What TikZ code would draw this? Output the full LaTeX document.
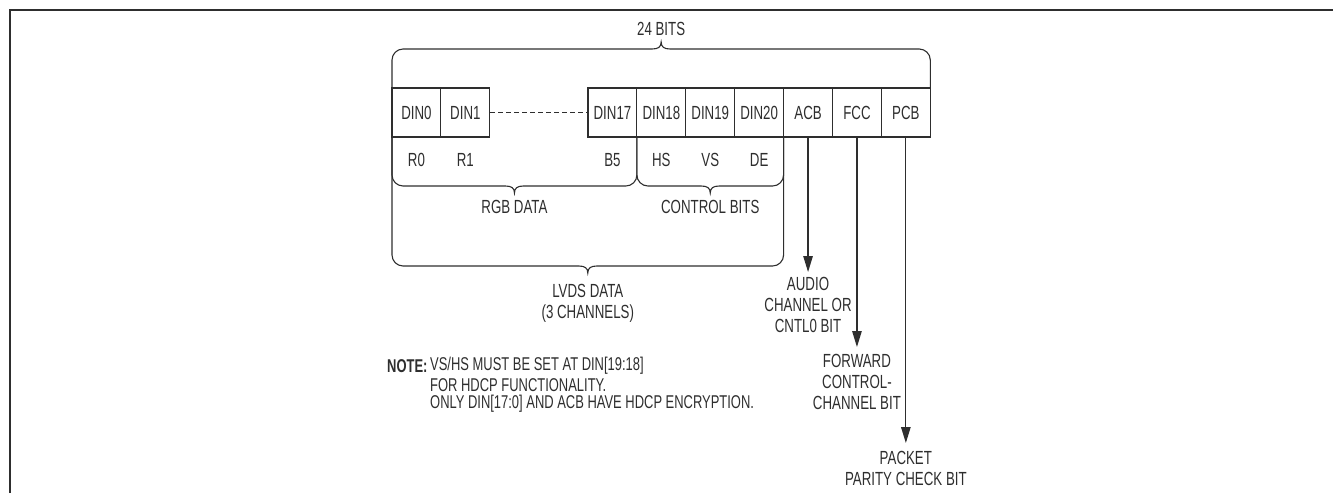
\documentclass[tikz,border=0pt]{standalone}
\usepackage{fontspec}
\setmainfont{Liberation Sans}[FakeStretch=0.70]
\usetikzlibrary{arrows.meta}
\definecolor{ink}{HTML}{2E2E2E}
\newcommand{\mybrace}[5]{% x1, x2, ytop, yh, dir (1 = tip down, -1 = tip up)
  \draw[brace] ({#1},{#3}) -- ({#1},{#4-#5*11})
    .. controls ({#1},{#4-#5*5}) and ({#1+5},{#4}) .. ({#1+11},{#4})
    -- ({(#1+#2)/2-9},{#4})
    .. controls ({(#1+#2)/2-3},{#4}) and ({(#1+#2)/2},{#4+#5*2}) .. ({(#1+#2)/2},{#4+#5*7})
    .. controls ({(#1+#2)/2},{#4+#5*2}) and ({(#1+#2)/2+3},{#4}) .. ({(#1+#2)/2+9},{#4})
    -- ({#2-11},{#4})
    .. controls ({#2-5},{#4}) and ({#2},{#4-#5*5}) .. ({#2},{#4-#5*11})
    -- ({#2},{#3});}
\begin{document}
\begin{tikzpicture}[x=1pt,y=-1pt,
  every node/.style={text=ink,font=\fontsize{19}{21}\selectfont},
  cell/.style={draw=ink,line width=1.1pt,minimum width=48.9pt,minimum height=49pt,inner sep=0pt},
  lbl/.style={inner sep=0pt},
  brace/.style={draw=ink,line width=1.1pt},
  arr/.style={draw=ink,line width=1.2pt,-{Triangle[length=16pt,width=9.5pt]}},
  note/.style={anchor=west,inner sep=0pt,font=\fontsize{18.5}{19}\selectfont}]
\useasboundingbox (0,0) rectangle (1333,493);
% frame (top and left edges)
\draw[ink,line width=2.5pt] (10,493) -- (10,10) -- (1333,10);
% bit cells
\node[cell] (d0)  at (416.45,112.5) {DIN0};
\node[cell] (d1)  at (465.35,112.5) {DIN1};
\node[cell] (d17) at (612.45,112.5) {DIN17};
\node[cell] (d18) at (661.35,112.5) {DIN18};
\node[cell] (d19) at (710.25,112.5) {DIN19};
\node[cell] (d20) at (759.15,112.5) {DIN20};
\node[cell] (acb) at (808.05,112.5) {ACB};
\node[cell] (fcc) at (856.95,112.5) {FCC};
\node[cell] (pcb) at (905.85,112.5) {PCB};
\draw[ink,line width=1.1pt,dash pattern=on 5pt off 3pt] (d1.east) -- (d17.west);
% bit meanings
\node[lbl] (r0) at (416.45,160) {R0};
\node[lbl] (r1) at (465.35,160) {R1};
\node[lbl] (b5) at (612.45,160) {B5};
\node[lbl] (hs) at (661.35,160) {HS};
\node[lbl] (vs) at (710.25,160) {VS};
\node[lbl] (de) at (759.15,160) {DE};
% braces
\mybrace{392}{930.3}{88}{49}{-1}
\node[lbl] (bits) at (661.15,29) {24 BITS};
\mybrace{392}{636.9}{137}{186}{1}
\node[lbl] (rgb) at (514.45,207) {RGB DATA};
\mybrace{636.9}{783.6}{137}{186}{1}
\node[lbl] (ctl) at (710.25,207) {CONTROL BITS};
\mybrace{392}{783.6}{137}{266}{1}
\node[lbl,align=center] (lvds) at (587.8,303) {LVDS DATA\\(3 CHANNELS)};
% arrows
\coordinate (acbend) at (808.05,272);
\coordinate (fccend) at (856.95,347);
\coordinate (pcbend) at (905.85,443);
\draw[arr] (acb.south) -- (acbend);
\draw[arr] (fcc.south) -- (fccend);
\draw[arr] (pcb.south) -- (pcbend);
\node[lbl,align=center] (acbtxt) at (808.05,305) {AUDIO\\CHANNEL OR\\CNTL0 BIT};
\node[lbl,align=center] (fcctxt) at (856.95,382) {FORWARD\\CONTROL-\\CHANNEL BIT};
\node[lbl,align=center] (pcbtxt) at (905.85,468) {PACKET\\PARITY CHECK BIT};
% note
\node[note] (notehd) at (387,366) {\bfseries NOTE:};
\node[note] (note1) at (430,366) {VS/HS MUST BE SET AT DIN[19:18]};
\node[note] (note2) at (430,385) {FOR HDCP FUNCTIONALITY.};
\node[note] (note3) at (430,404) {ONLY DIN[17:0] AND ACB HAVE HDCP ENCRYPTION.};
\end{tikzpicture}
\end{document}
